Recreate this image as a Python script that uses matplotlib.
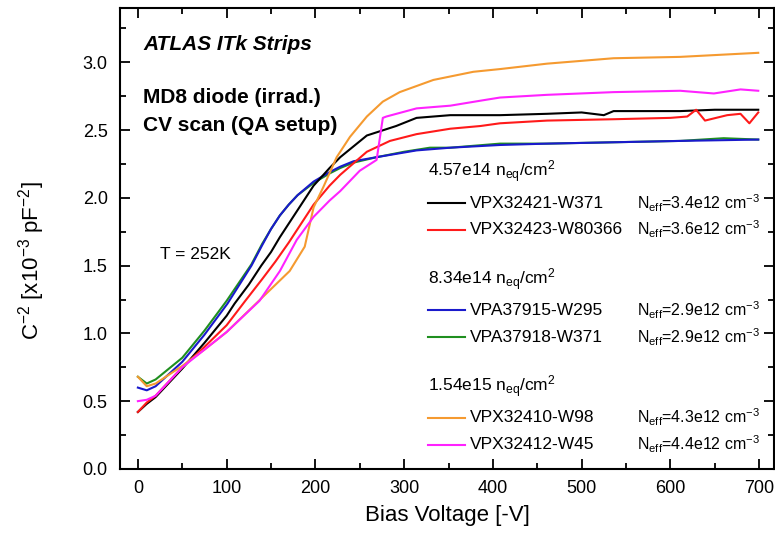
import matplotlib
matplotlib.use('Agg')
import matplotlib.pyplot as plt
from matplotlib.ticker import MultipleLocator

plt.rcParams['font.family'] = ['Liberation Sans', 'DejaVu Sans']
plt.rcParams['mathtext.fontset'] = 'custom'
plt.rcParams['mathtext.rm'] = 'Liberation Sans'
plt.rcParams['mathtext.it'] = 'Liberation Sans:italic'
plt.rcParams['mathtext.bf'] = 'Liberation Sans:bold'

# Данные (V, C^-2)
v_black = [0, 10, 20, 50, 75, 100, 109, 125, 139, 150, 160, 171, 183, 198, 216, 228, 243, 258, 291, 314, 352, 386, 408, 461, 500, 525, 536, 575, 611, 650, 699]
c_black = [0.42, 0.48, 0.53, 0.74, 0.93, 1.13, 1.22, 1.36, 1.50, 1.60, 1.71, 1.82, 1.94, 2.09, 2.22, 2.30, 2.38, 2.46, 2.53, 2.59, 2.61, 2.61, 2.61, 2.62, 2.63, 2.61, 2.64, 2.64, 2.64, 2.65, 2.65]

v_red = [0, 10, 20, 50, 75, 100, 121, 140, 155, 170, 185, 198, 216, 228, 258, 284, 314, 352, 386, 408, 461, 536, 600, 619, 629, 639, 664, 679, 689, 699]
c_red = [0.42, 0.49, 0.54, 0.75, 0.90, 1.06, 1.24, 1.40, 1.53, 1.67, 1.82, 1.95, 2.09, 2.17, 2.34, 2.42, 2.47, 2.51, 2.53, 2.55, 2.57, 2.58, 2.59, 2.60, 2.65, 2.57, 2.61, 2.62, 2.55, 2.63]

v_blue = [0, 10, 20, 50, 75, 101, 128, 140, 150, 160, 170, 180, 198, 216, 228, 243, 269, 314, 352, 408, 461, 536, 611, 699]
c_blue = [0.60, 0.58, 0.61, 0.79, 0.99, 1.22, 1.50, 1.65, 1.77, 1.87, 1.95, 2.02, 2.12, 2.19, 2.23, 2.27, 2.30, 2.35, 2.37, 2.39, 2.40, 2.41, 2.42, 2.43]

v_green = [0, 10, 20, 50, 75, 100, 128, 140, 150, 160, 170, 180, 198, 216, 228, 243, 269, 300, 329, 352, 408, 461, 536, 611, 660, 699]
c_green = [0.68, 0.63, 0.66, 0.82, 1.02, 1.24, 1.51, 1.66, 1.77, 1.87, 1.95, 2.02, 2.11, 2.18, 2.22, 2.26, 2.30, 2.34, 2.37, 2.37, 2.40, 2.40, 2.41, 2.42, 2.44, 2.43]

v_orange = [0, 10, 20, 50, 75, 100, 141, 171, 188, 198, 209, 224, 239, 258, 276, 295, 333, 378, 408, 461, 536, 611, 699]
c_orange = [0.68, 0.61, 0.63, 0.76, 0.88, 1.01, 1.27, 1.46, 1.64, 1.93, 2.08, 2.30, 2.45, 2.60, 2.71, 2.78, 2.87, 2.93, 2.95, 2.99, 3.03, 3.04, 3.07]

v_magenta = [0, 10, 20, 50, 75, 100, 137, 160, 179, 198, 216, 228, 250, 269, 276, 280, 314, 352, 389, 408, 461, 536, 611, 649, 679, 699]
c_magenta = [0.50, 0.51, 0.54, 0.75, 0.88, 1.01, 1.24, 1.46, 1.69, 1.86, 1.98, 2.05, 2.20, 2.28, 2.59, 2.60, 2.66, 2.68, 2.72, 2.74, 2.76, 2.78, 2.79, 2.77, 2.80, 2.79]

# Легенда: группы по флюенсу
group_titles = ['4.57e14 n$_{\\mathrm{eq}}$/cm$^{2}$',
                '8.34e14 n$_{\\mathrm{eq}}$/cm$^{2}$',
                '1.54e15 n$_{\\mathrm{eq}}$/cm$^{2}$']
sample_names = [['VPX32421-W371', 'VPX32423-W80366'],
                ['VPA37915-W295', 'VPA37918-W371'],
                ['VPX32410-W98', 'VPX32412-W45']]
neff_values = [['3.4e12', '3.6e12'],
               ['2.9e12', '2.9e12'],
               ['4.3e12', '4.4e12']]
colors = [['#000000', '#ff1a1a'],
          ['#1a1acc', '#1f8f1f'],
          ['#f59a30', '#ff22ff']]
series = [[(v_black, c_black), (v_red, c_red)],
          [(v_blue, c_blue), (v_green, c_green)],
          [(v_orange, c_orange), (v_magenta, c_magenta)]]

fig = plt.figure(figsize=(7.75, 5.39), dpi=100)
ax = fig.add_axes([0.155, 0.130, 0.844, 0.855])

# порядок отрисовки: сначала зелёная, потом синяя поверх
draw_order = [(1, 1), (1, 0), (0, 0), (0, 1), (2, 0), (2, 1)]
for g, k in draw_order:
    v, c = series[g][k]
    ax.plot(v, c, color=colors[g][k], linewidth=1.5)

ax.set_xlim(-20, 717)
ax.set_ylim(0, 3.4)
ax.xaxis.set_major_locator(MultipleLocator(100))
ax.xaxis.set_minor_locator(MultipleLocator(50))
ax.yaxis.set_major_locator(MultipleLocator(0.5))
ax.yaxis.set_minor_locator(MultipleLocator(0.25))
ax.yaxis.set_major_formatter(plt.FuncFormatter(lambda y, p: f'{y:.1f}'))
ax.tick_params(which='both', direction='in', top=True, right=True, width=1.3, labelsize=13)
ax.tick_params(which='major', length=7)
ax.tick_params(which='minor', length=4)
ax.tick_params(axis='x', pad=8)
ax.tick_params(axis='y', pad=9)
for s in ax.spines.values():
    s.set_linewidth(1.5)

ax.set_xlabel('Bias Voltage [-V]', fontsize=16, labelpad=6)
ax.set_ylabel('C$^{-2}$ [x10$^{-3}$ pF$^{-2}$]', fontsize=16)
ax.yaxis.set_label_coords(-0.112, 0.451)

ax.text(0.035, 0.922, 'ATLAS ITk Strips', transform=ax.transAxes, fontsize=15,
        fontweight='bold', fontstyle='italic', va='center')
ax.text(0.035, 0.805, 'MD8 diode (irrad.)', transform=ax.transAxes, fontsize=15,
        fontweight='bold', va='center')
ax.text(0.035, 0.746, 'CV scan (QA setup)', transform=ax.transAxes, fontsize=15,
        fontweight='bold', va='center')
ax.text(0.061, 0.466, 'T = 252K', transform=ax.transAxes, fontsize=12.5, va='center')

# ручная легенда
x_line0, x_line1, x_name, x_neff = 0.471, 0.528, 0.535, 0.790
y = 0.644
for g in range(3):
    ax.text(x_line0, y, group_titles[g], transform=ax.transAxes, fontsize=12.5, va='center')
    y -= 0.067
    for k in range(2):
        ax.plot([x_line0, x_line1], [y, y], transform=ax.transAxes,
                color=colors[g][k], linewidth=1.5, clip_on=False)
        ax.text(x_name, y, sample_names[g][k], transform=ax.transAxes, fontsize=12.5, va='center')
        ax.text(x_neff, y, 'N$_{\\mathrm{eff}}$=' + neff_values[g][k] + ' cm$^{-3}$',
                transform=ax.transAxes, fontsize=11.5, va='center')
        y -= 0.058
    y -= 0.050

fig.savefig('out.png', dpi=100)
